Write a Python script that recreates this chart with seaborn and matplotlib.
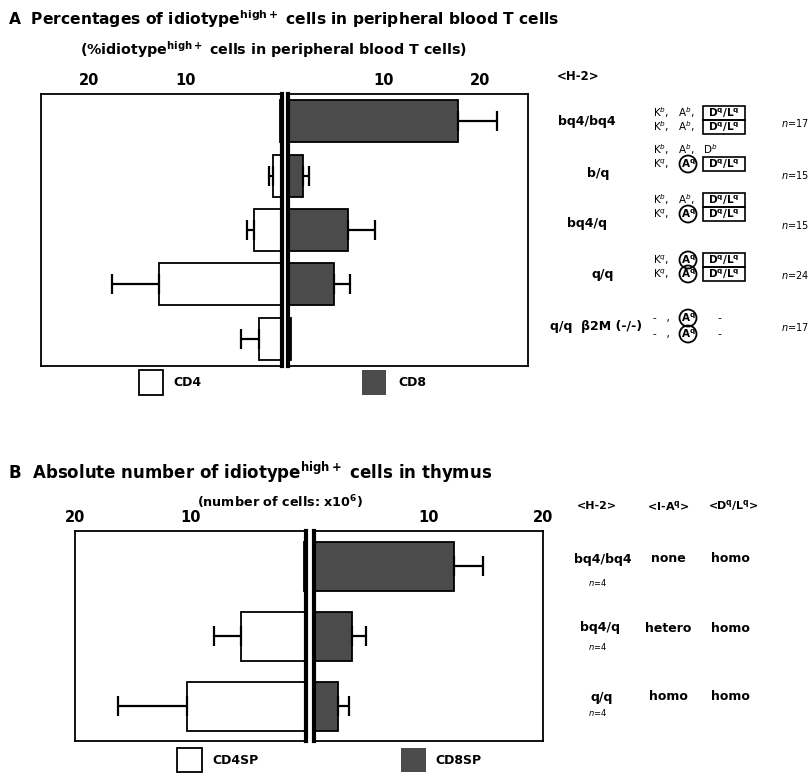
import numpy as np
import pandas as pd
import seaborn as sns
import matplotlib
matplotlib.use("Agg")
import matplotlib.pyplot as plt
from matplotlib.patches import Rectangle, Ellipse

# ---- data -------------------------------------------------------------
a_genotypes = ["bq4/bq4", "b/q", "bq4/q", "q/q", "q/q  \u03b22M (-/-)"]
a_cd4 = [0.2, 0.9, 2.9, 12.8, 2.4]
a_cd4_err = [0.0, 0.5, 0.7, 4.8, 1.9]
a_cd8 = [17.7, 1.6, 6.3, 4.8, 0.3]
a_cd8_err = [4.1, 0.6, 2.8, 1.7, 0.0]
a_n = [17, 15, 15, 24, 17]
a_ticks = [10, 20]

b_genotypes = ["bq4/bq4", "bq4/q", "q/q"]
b_cd4 = [0.2, 5.6, 10.3]
b_cd4_err = [0.0, 2.4, 6.0]
b_cd8 = [12.2, 3.3, 2.1]
b_cd8_err = [2.6, 1.2, 1.0]
b_iaq = ["none", "hetero", "homo"]
b_dlq = ["homo", "homo", "homo"]
b_n = [4, 4, 4]
b_ticks = [10, 20]

# ---- style ------------------------------------------------------------
W, H = 809, 773
sns.set_theme(style="white")
plt.rcParams["font.family"] = ["DejaVu Sans"]
plt.rcParams["mathtext.fontset"] = "dejavusans"
for key in ("text.color", "axes.labelcolor", "xtick.color", "ytick.color", "axes.edgecolor"):
    plt.rcParams[key] = "black"

DARK = "#4b4b4b"
fig = plt.figure(figsize=(W / 100, H / 100), dpi=100)


def fx(x):
    return x / W


def fy(y):
    return 1 - y / H


def add_ax(x0, y0, x1, y1):
    return fig.add_axes([fx(x0), fy(y1), fx(x1) - fx(x0), fy(y0) - fy(y1)])


def draw_half(ax, vals, errs, cats, color, xmax, ticks, width, inner):
    sns.barplot(x=vals, y=cats, orient="h", ax=ax, color=color,
                edgecolor="black", linewidth=1.3, width=width,
                errorbar=None, saturation=1)
    pos = np.arange(len(cats))
    v = np.asarray(vals)
    e = np.asarray(errs)
    m = e > 0
    ax.errorbar(v[m], pos[m], xerr=[np.zeros(m.sum()), e[m]], fmt="none",
                ecolor="black", elinewidth=1.6, capsize=7, capthick=1.6)
    ax.set_xlim(0, xmax)
    ax.set_ylim(len(cats) - 0.5, -0.5)
    ax.set_xlabel("")
    ax.set_ylabel("")
    ax.xaxis.tick_top()
    ax.set_xticks(ticks)
    ax.set_xticklabels([str(t) for t in ticks], fontweight="bold", fontsize=10.5)
    ax.tick_params(axis="x", length=0, pad=4)
    ax.set_yticks([])
    for s in ax.spines.values():
        s.set_visible(True)
        s.set_color("black")
        s.set_linewidth(1.3)
    ax.spines[inner].set_linewidth(3)


def key_patch(x, y, w, h, fc, ec):
    fig.patches.append(Rectangle((fx(x), fy(y + h)), w / W, h / H,
                                 transform=fig.transFigure, fc=fc, ec=ec, lw=1.3))


# ---- panel A ----------------------------------------------------------
axL = add_ax(41, 94, 282, 366)
draw_half(axL, a_cd4, a_cd4_err, a_genotypes, "white", 25, a_ticks, 0.77, "right")
axL.invert_xaxis()
axR = add_ax(288, 94, 528, 366)
draw_half(axR, a_cd8, a_cd8_err, a_genotypes, DARK, 25, a_ticks, 0.77, "left")

fig.text(fx(8), fy(19), r"A  Percentages of idiotype$^{\mathbf{high+}}$ cells in peripheral blood T cells",
         fontsize=11.2, fontweight="bold", va="center", ha="left")
fig.text(fx(273), fy(50), r"(%idiotype$^{\mathbf{high+}}$ cells in peripheral blood T cells)",
         fontsize=10.3, fontweight="bold", va="center", ha="center")
fig.text(fx(578), fy(77), "<H-2>", fontsize=8.5, fontweight="bold", va="center", ha="center")

a_label_x = [587, 598, 587, 603, 596]
a_label_y = [122, 174, 224, 274, 326]
for lab, lx, ly, n in zip(a_genotypes, a_label_x, a_label_y, a_n):
    fig.text(fx(lx), fy(ly), lab, fontsize=9, fontweight="bold", va="center", ha="center")
    fig.text(fx(781), fy(ly + 1), rf"$n$={n}", fontsize=7, va="center", ha="left")

# MHC composition of each H-2 allele (two haplotypes per row):
# circled I-A(q), boxed D(q)/L(q)
hap_b = ("K$^b$,   A$^b$,", False, True)
hap_b_plain = ("K$^b$,   A$^b$,   D$^b$", False, False)
hap_q = ("K$^q$,", True, True)
hap_null = ("-   ,", True, False)
a_rows = [
    [(113, hap_b), (127, hap_b)],
    [(150, hap_b_plain), (164, hap_q)],
    [(200, hap_b), (214, hap_q)],
    [(260, hap_q), (274, hap_q)],
    [(318, hap_null), (334, hap_null)],
]
for row in a_rows:
    for y, (txt, circled, boxed) in row:
        fig.text(fx(653), fy(y), txt, fontsize=7.5, va="center", ha="left")
        if circled:
            fig.patches.append(Ellipse((fx(688), fy(y)), 17 / W, 17 / H,
                                       transform=fig.transFigure, fc="none",
                                       ec="black", lw=1.3))
            fig.text(fx(688), fy(y), r"$\mathbf{A^q}$", fontsize=7.5, va="center", ha="center")
        if boxed:
            fig.patches.append(Rectangle((fx(703), fy(y + 7)), 42 / W, 14 / H,
                                         transform=fig.transFigure, fc="none",
                                         ec="black", lw=1.2))
            fig.text(fx(724), fy(y), r"$\mathbf{D^q/L^q}$", fontsize=7.5, va="center", ha="center")
        elif txt.startswith("-"):
            fig.text(fx(719), fy(y), "-", fontsize=8, va="center", ha="center")

# legend A
key_patch(139, 370, 24, 25, "white", "black")
fig.text(fx(173), fy(383), "CD4", fontsize=9, fontweight="bold", va="center")
key_patch(362, 370, 24, 25, DARK, "none")
fig.text(fx(398), fy(383), "CD8", fontsize=9, fontweight="bold", va="center")

# ---- panel B ----------------------------------------------------------
bxL = add_ax(75, 531, 306, 741)
draw_half(bxL, b_cd4, b_cd4_err, b_genotypes, "white", 20, b_ticks, 0.7, "right")
bxL.invert_xaxis()
bxR = add_ax(314, 531, 543, 741)
draw_half(bxR, b_cd8, b_cd8_err, b_genotypes, DARK, 20, b_ticks, 0.7, "left")

fig.text(fx(8), fy(472), r"B  Absolute number of idiotype$^{\mathbf{high+}}$ cells in thymus",
         fontsize=12, fontweight="bold", va="center", ha="left")
fig.text(fx(280), fy(502), r"(number of cells: x10$^{\mathbf{6}}$)",
         fontsize=9.2, fontweight="bold", va="center", ha="center")
fig.text(fx(597), fy(506), "<H-2>", fontsize=8, fontweight="bold", va="center", ha="center")
fig.text(fx(668), fy(506), r"<I-A$^{\mathbf{q}}$>", fontsize=8, fontweight="bold",
         va="center", ha="center")
fig.text(fx(733), fy(506), r"<D$^{\mathbf{q}}$/L$^{\mathbf{q}}$>", fontsize=8,
         fontweight="bold", va="center", ha="center")

b_label_y = [559, 628, 697]
b_n_y = [582, 647, 713]
b_label_x = [603, 600, 602]
for lab, lx, ly, ny, ia, dl, n in zip(b_genotypes, b_label_x, b_label_y, b_n_y,
                                      b_iaq, b_dlq, b_n):
    fig.text(fx(lx), fy(ly), lab, fontsize=9, fontweight="bold", va="center", ha="center")
    fig.text(fx(668), fy(ly), ia, fontsize=9, fontweight="bold", va="center", ha="center")
    fig.text(fx(730), fy(ly), dl, fontsize=9, fontweight="bold", va="center", ha="center")
    fig.text(fx(598), fy(ny), rf"$n$={n}", fontsize=6, va="center", ha="center")

# legend B
key_patch(177, 748, 25, 24, "white", "black")
fig.text(fx(212), fy(760), "CD4SP", fontsize=9, fontweight="bold", va="center")
key_patch(401, 748, 25, 24, DARK, "none")
fig.text(fx(435), fy(760), "CD8SP", fontsize=9, fontweight="bold", va="center")

fig.savefig("out.png", dpi=100, facecolor="white")
